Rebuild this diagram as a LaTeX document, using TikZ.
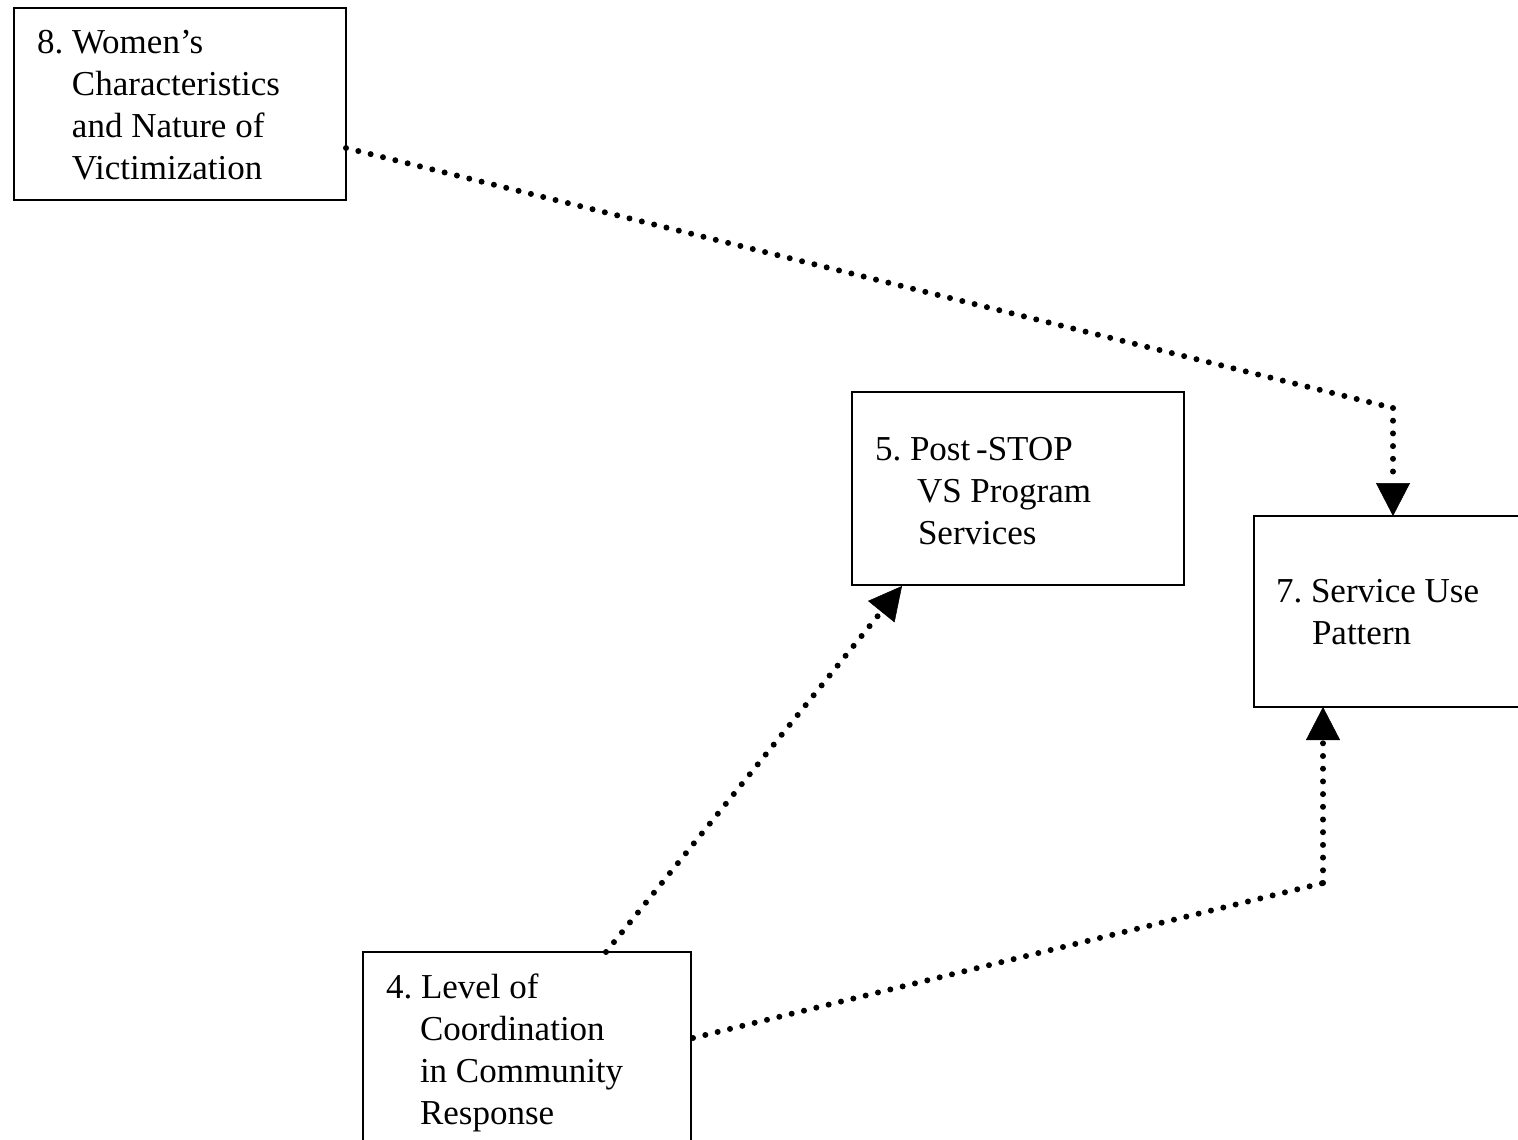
\documentclass[tikz,border=0pt]{standalone}
\usepackage{fontspec}
\setmainfont{Liberation Serif}
\usetikzlibrary{arrows.meta,calc}
\tikzset{
  box/.style={draw, line width=2pt, rectangle, anchor=north west, inner sep=0pt, outer sep=0pt},
  txt/.style={anchor=base west, inner sep=0pt, outer sep=0pt, font=\fontsize{35pt}{42pt}\selectfont\frenchspacing},
  conn/.style={line width=6pt, line cap=round, dash pattern=on 0pt off 12.7pt,
    -{Triangle[length=33pt,width=34pt,line width=0.5pt]}},
  connplain/.style={line width=6pt, line cap=round, dash pattern=on 0pt off 12.7pt}
}
\begin{document}
\begin{tikzpicture}[x=1pt,y=-1pt]
\useasboundingbox (0,0) rectangle (1518,1140);
\clip (0,0) rectangle (1518,1140);
\fill[white] (0,0) rectangle (1518,1140);
% boxes
\node[box, minimum width=332pt, minimum height=192pt] (b8) at (14,8) {};
\node[box, minimum width=332pt, minimum height=193pt] (b5) at (852,392) {};
\node[box, minimum width=290pt, minimum height=191pt] (b7) at (1254,516) {};
\node[box, minimum width=328pt, minimum height=200pt] (b4) at (363,952) {};
% texts
\node[txt] (t8) at (37,54) {\vtop{\hbox{8. Women’s}\hbox{\hspace*{35pt}Characteristics}\hbox{\hspace*{35pt}and Nature of}\hbox{\hspace*{35pt}Victimization}}};
\node[txt] (t5) at (875,460) {\vtop{\hbox{5. Post\,-STOP}\hbox{\hspace*{42pt}VS Program}\hbox{\hspace*{43pt}Services}}};
\node[txt] (t7) at (1276,602) {\vtop{\hbox{7. Service Use}\hbox{\hspace*{36pt}Pattern}}};
\node[txt] (t4) at (386,998) {\vtop{\hbox{4. Level of}\hbox{\hspace*{34pt}Coordination}\hbox{\hspace*{34pt}in Community}\hbox{\hspace*{34pt}Response}}};
% corners
\coordinate (c1) at (1393,408);
\coordinate (c2) at (1323,883);
% connectors
\draw[connplain] ($(b8.north east)+(0,140)$) -- (c1);
\draw[conn] (c1) -- (b7.north -| c1);
\draw[conn] ($(b4.north west)+(243,0)$) -- ($(b5.south west)+(50,1)$);
\draw[connplain] ($(b4.north east)+(2,86)$) -- (c2);
\draw[conn] (c2) -- (b7.south -| c2);
\end{tikzpicture}
\end{document}
